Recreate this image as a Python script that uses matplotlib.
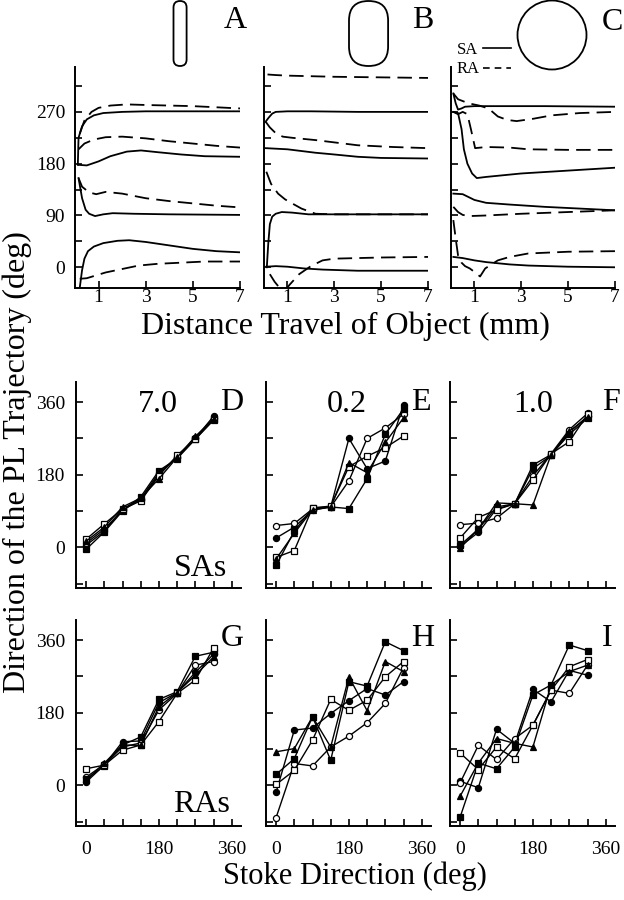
import matplotlib
matplotlib.use("Agg")
import matplotlib.pyplot as plt
from matplotlib.patches import FancyBboxPatch, Circle

plt.rcParams['font.family'] = ['Liberation Serif', 'DejaVu Serif']

# ---------------- data: top row (distance travelled, mm ; direction, deg) -------------
# Panel A
A_solid_x = [[0.12, 0.15, 0.3, 0.5, 0.8, 1.2, 2, 3, 5, 7],
             [0.15, 0.5, 1, 1.5, 2.2, 2.8, 3.5, 4.5, 5.5, 7],
             [0.15, 0.3, 0.45, 0.6, 0.85, 1.2, 1.6, 2.5, 4, 7],
             [0.2, 0.3, 0.4, 0.55, 0.8, 1.2, 1.8, 2.3, 3, 4, 5, 6, 7]]
A_solid_y = [[178, 225, 245, 257, 264, 268, 270, 271, 271, 271],
             [178, 177, 184, 193, 201, 203, 200, 196, 193, 192],
             [155, 120, 100, 93, 89, 92, 94, 93, 92, 91],
             [-36, -5, 15, 28, 36, 42, 46, 47, 44, 38, 32, 28, 26]]
A_dash_x = [[0.2, 0.4, 0.7, 1.0, 1.5, 2.2, 3, 5, 7],
            [0.15, 0.4, 0.8, 1.3, 2, 3, 4, 5, 6, 7],
            [0.15, 0.3, 0.6, 0.9, 1.3, 2, 3, 4, 5, 6, 7],
            [0.2, 0.5, 0.9, 1.3, 2, 2.7, 3.5, 4.5, 5.5, 7]]
A_dash_y = [[232, 255, 270, 277, 281, 283, 282, 280, 276],
            [205, 215, 222, 226, 227, 224, 219, 215, 211, 208],
            [155, 140, 130, 127, 131, 128, 120, 115, 111, 107, 104],
            [-20, -19, -14, -9, -3, 3, 6, 8, 10, 10]]

# Panel B
B_solid_x = [[0.07, 0.2, 0.35, 0.5, 1, 2, 4, 7],
             [0.07, 1, 2.2, 3, 4, 5, 7],
             [0.12, 0.18, 0.25, 0.35, 0.5, 0.76, 1.2, 1.9, 3, 5, 7],
             [0.1, 0.5, 1, 1.7, 2.5, 4, 5, 7]]
B_solid_y = [[253, 260, 267, 270, 271, 271, 270, 270],
             [207, 205, 199, 196, 192, 190, 189],
             [0, 40, 75, 88, 93, 96, 95, 92, 92, 92, 92],
             [1, 2, 1, -2, -4, -6, -6, -6]]
B_dash_x = [[0.15, 0.5, 1, 2, 3, 5, 7],
            [0.07, 0.25, 0.5, 0.8, 1.2, 2.2, 3, 4, 5.5, 7],
            [0.1, 0.3, 0.6, 0.9, 1.2, 1.6, 2.2, 3, 5, 7],
            [0.25, 0.45, 0.65, 0.9, 1.1, 1.5, 2, 2.5, 3, 4, 5, 7]]
B_dash_y = [[335, 334, 333, 332, 331, 330, 329],
            [253, 243, 233, 227, 225, 221, 217, 212, 209, 207],
            [166, 145, 128, 118, 111, 102, 93, 92, 92, 92],
            [-12, -25, -35, -40, -30, -12, 2, 12, 15, 16, 17, 18]]

# Panel C
C_solid_x = [[0.1, 0.2, 0.3, 0.45, 0.6, 1, 2, 4, 7],
             [0.1, 0.3, 0.45, 0.55, 0.7, 0.9, 1.1, 1.5, 2, 3, 5, 7],
             [0.1, 0.5, 1.0, 1.5, 2.5, 4, 5.5, 7],
             [0.1, 0.5, 1.0, 1.5, 2.5, 3.3, 5, 7]]
C_solid_y = [[302, 285, 274, 276, 279, 280, 280, 280, 279],
             [270, 268, 240, 205, 180, 163, 155, 157, 159, 163, 168, 173],
             [128, 127, 117, 112, 109, 105, 102, 99],
             [18, 16, 12, 9, 5, 3, 1, 0]]
C_dash_x = [[0.1, 0.3, 0.74, 1.2, 1.6, 2.0, 2.4, 2.8, 3.5, 4.3, 5.5, 7],
            [0.1, 0.3, 0.5, 0.7, 0.85, 1.03, 1.5, 2.5, 3.3, 5, 7],
            [0.1, 0.3, 0.5, 0.8, 1.5, 3, 5, 7],
            [0.1, 0.2, 0.3, 0.45, 0.6, 0.8, 1.0, 1.24, 1.46, 2, 2.5, 3.3, 5, 7]]
C_dash_y = [[302, 292, 285, 281, 276, 262, 256, 254, 258, 264, 268, 270],
            [270, 266, 270, 266, 240, 207, 209, 208, 205, 204, 204],
            [105, 96, 91, 89, 90, 93, 96, 99],
            [82, 50, 21, 8, 2, -2, -8, -16, -2, 12, 18, 24, 27, 28]]

# ---------------- data: lower rows (stroke direction vs PL direction) ----------------
stroke_dir = [0, 45, 90, 135, 180, 225, 270, 315]
series_names = ['filled circle', 'open circle', 'filled square', 'open square', 'filled triangle']

D_vals = [[5, 40, 95, 120, 185, 222, 270, 325],
          [10, 45, 92, 118, 180, 225, 272, 320],
          [-5, 38, 90, 125, 190, 220, 268, 318],
          [20, 58, 95, 115, 178, 228, 268, 315],
          [15, 50, 100, 122, 170, 223, 275, 318]]
E_vals = [[23, 50, 92, 100, 270, 195, 214, 354],
          [54, 59, 95, 100, 165, 270, 296, 330],
          [-45, 40, 97, 100, 96, 170, 280, 343],
          [-25, -8, 98, 102, 200, 226, 247, 276],
          [-29, 35, 93, 100, 210, 185, 260, 321]]
F_vals = [[2, 37, 95, 108, 195, 228, 285, 325],
          [56, 60, 72, 108, 177, 232, 292, 332],
          [5, 45, 100, 108, 204, 230, 280, 320],
          [23, 74, 93, 108, 167, 232, 262, 330],
          [-2, 45, 110, 108, 105, 230, 288, 322]]
G_vals = [[8, 50, 108, 110, 205, 230, 280, 325],
          [20, 52, 95, 105, 187, 228, 298, 307],
          [15, 48, 100, 120, 213, 232, 320, 330],
          [41, 50, 87, 100, 158, 228, 261, 340],
          [12, 55, 100, 99, 195, 230, 273, 318]]
H_vals = [[-17, 137, 142, 178, 210, 240, 224, 257],
          [-80, 54, 48, 95, 122, 155, 203, 292],
          [27, 66, 170, 62, 257, 246, 356, 334],
          [2, 37, 112, 213, 186, 211, 269, 307],
          [83, 91, 170, 95, 269, 185, 307, 282]]
I_vals = [[10, -6, 139, 104, 238, 207, 285, 273],
          [6, 99, 64, 116, 149, 236, 228, 298],
          [-79, 55, 41, 95, 224, 249, 348, 334],
          [80, 39, 95, 66, 149, 236, 294, 312],
          [-27, 55, 116, 104, 95, 249, 282, 298]]

panel_letters = ['A', 'B', 'C', 'D', 'E', 'F', 'G', 'H', 'I']
speed_labels = ['7.0', '0.2', '1.0']
row_labels = ['SAs', 'RAs']

# ---------------- figure ----------------
W, H = 624, 900
fig = plt.figure(figsize=(W / 100, H / 100), dpi=100)


def add_ax(l, r, t, b):
    ax = fig.add_axes([l / W, 1 - b / H, (r - l) / W, (b - t) / H])
    ax.patch.set_visible(False)
    return ax


def style(ax):
    for s in ['top', 'right']:
        ax.spines[s].set_visible(False)
    for s in ['left', 'bottom']:
        ax.spines[s].set_linewidth(1.4)
    ax.tick_params(direction='in', length=5, width=1.2, labelsize=14)


top_cols = [(75, 240), (264, 428), (451, 615)]
top_data = [(A_solid_x, A_solid_y, A_dash_x, A_dash_y),
            (B_solid_x, B_solid_y, B_dash_x, B_dash_y),
            (C_solid_x, C_solid_y, C_dash_x, C_dash_y)]
for i, ((l, r), (sx, sy, dx, dy)) in enumerate(zip(top_cols, top_data)):
    ax = add_ax(l, r, 67, 288)
    style(ax)
    for x, y in zip(sx, sy):
        ax.plot(x, y, color='k', lw=1.3)
    for x, y in zip(dx, dy):
        ax.plot(x, y, color='k', lw=1.3, dashes=(8, 4))
    ax.set_xlim(0, 7)
    ax.set_ylim(-36, 348)
    ax.set_xticks([1, 3, 5, 7])
    ax.set_yticks(range(0, 316, 45))
    if i == 0:
        ax.set_yticklabels(['0', '', '90', '', '180', '', '270', ''])
    else:
        ax.set_yticklabels([])
    ax.tick_params(axis='x', pad=1)
    ax.tick_params(axis='y', pad=7)

low_cols = [(76, 241), (266, 431), (450, 615)]
low_rows = [(382, 588), (620, 826)]
low_data = [[D_vals, E_vals, F_vals], [G_vals, H_vals, I_vals]]
mstyles = [dict(marker='o', mfc='k'), dict(marker='o', mfc='white'),
           dict(marker='s', mfc='k'), dict(marker='s', mfc='white'),
           dict(marker='^', mfc='k')]
for ri, (t, b) in enumerate(low_rows):
    for ci, (l, r) in enumerate(low_cols):
        ax = add_ax(l, r, t, b)
        style(ax)
        for vals, ms in zip(low_data[ri][ci], mstyles):
            ax.plot(stroke_dir, vals, color='k', lw=1.0, mec='k', mew=0.9,
                    markersize=4.4, **ms)
        ax.set_xlim(-25, 383)
        ax.set_ylim(-101, 410)
        ax.set_xticks(range(0, 361, 45))
        ax.set_yticks(range(-90, 361, 90))
        if ri == 1:
            ax.set_xticklabels(['0', '', '', '', '180', '', '', '', '360'])
        else:
            ax.set_xticklabels([])
        if ci == 0:
            ax.set_yticklabels(['', '0', '', '180', '', '360'])
        else:
            ax.set_yticklabels([])
        ax.tick_params(axis='x', pad=11)
        ax.tick_params(axis='y', pad=8)

# ---------------- decorations in pixel coordinates ----------------
ov = fig.add_axes([0, 0, 1, 1], zorder=10)
ov.patch.set_visible(False)
ov.set_xlim(0, W)
ov.set_ylim(H, 0)
ov.axis('off')

# object shapes
ov.add_patch(FancyBboxPatch((173.5 + 6.5, 1 + 6.5), 0.1, 65 - 13,
                            boxstyle='round,pad=6.5', fill=False, lw=1.3, ec='k'))
ov.add_patch(FancyBboxPatch((349 + 19.5, 1 + 19.5), 0.1, 65 - 39,
                            boxstyle='round,pad=19.5', fill=False, lw=1.3, ec='k'))
ov.add_patch(Circle((552, 35), 34.5, fill=False, lw=1.3, ec='k'))

ov.text(468, 50, 'SA', fontsize=12, ha='center', va='center')
ov.text(468, 69, 'RA', fontsize=12, ha='center', va='center')
ov.plot([483, 511], [48, 48], color='k', lw=1.2)
ov.plot([483, 511], [68, 68], color='k', lw=1.2, dashes=(4, 3))

# panel letters
letter_pos = [(235, 20), (423, 20), (612, 22),
              (232, 402), (421, 402), (611, 402),
              (232, 639), (423, 639), (607, 639)]
for s, (x, y) in zip(panel_letters, letter_pos):
    ov.text(x, y, s, fontsize=23, ha='center', va='center')

for s, x in zip(speed_labels, [158, 347, 533]):
    ov.text(x, 404, s, fontsize=23, ha='center', va='center')
ov.text(200, 568, row_labels[0], fontsize=23, ha='center', va='center')
ov.text(202, 804, row_labels[1], fontsize=23, ha='center', va='center')

fig.text(345 / W, 1 - 326 / H, 'Distance Travel of Object (mm)', fontsize=23,
         ha='center', va='center')
fig.text(355 / W, 1 - 876 / H, 'Stoke Direction (deg)', fontsize=22,
         ha='center', va='center')
fig.text(17 / W, 1 - 462 / H, 'Direction of the PL Trajectory (deg)', fontsize=23,
         ha='center', va='center', rotation=90)

fig.savefig('out.png', dpi=100)
